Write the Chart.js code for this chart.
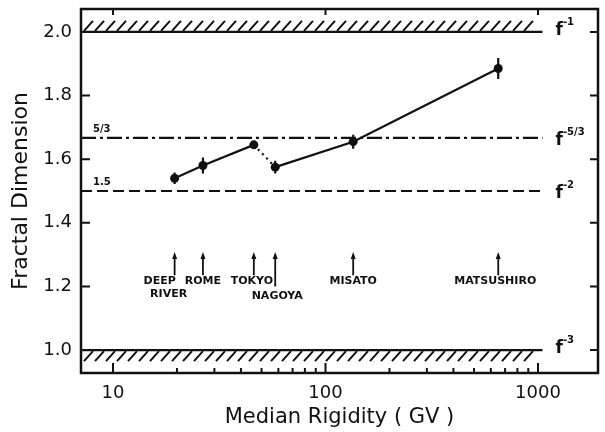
<!DOCTYPE html>
<html>
<head>
<meta charset="utf-8">
<script src="https://cdn.jsdelivr.net/npm/chart.js@4.4.1/dist/chart.umd.min.js"></script>
<style>
  html, body { margin: 0; padding: 0; background: #fff; }
</style>
</head>
<body>
<canvas id="fractalChart" width="605" height="432"></canvas>
<script>
// stations, median rigidity (GV) and fractal dimension
const stations = [['DEEP', 'RIVER'], ['ROME'], ['TOKYO'], ['NAGOYA'], ['MISATO'], ['MATSUSHIRO']];
const rigidity = [19.5, 26.5, 46, 58, 135, 650];
const dimension = [1.54, 1.58, 1.645, 1.575, 1.655, 1.885];
const dimensionErr = [0.018, 0.025, 0.012, 0.02, 0.022, 0.033];

// spectral index levels f^-n and their fractal dimension
const refLevels = [2.0, 5 / 3, 1.5, 1.0];
const refNames = ['-1', '-5/3', '-2', '-3'];
const refLeftNames = ['', '5/3', '1.5', ''];

const xTicks = [10, 100, 1000];
const xMinorTicks = [20, 30, 40, 50, 60, 70, 80, 90, 200, 300, 400, 500, 600, 700, 800, 900];
const yTicks = [1.0, 1.2, 1.4, 1.6, 1.8, 2.0];

const INK = '#111';
const FONT = 'DejaVu Sans';
const xMin = 7.07, xMax = 1916, yMin = 0.928, yMax = 2.072;
const levelEnd = 1050;

// where the station arrows and names sit (data units)
const arrowTop = 1.305;
const arrowBottom = [1.235, 1.235, 1.235, 1.2, 1.235, 1.235];
const nameY = [1.216, 1.216, 1.216, 1.17, 1.216, 1.216];
const nameDx = [[-15, -6], [0], [-2], [2], [0], [-3]];

function levelLine(y, dash) {
    return {
        data: [{ x: xMin, y: y }, { x: levelEnd, y: y }],
        borderColor: INK,
        borderWidth: 2.2,
        borderDash: dash,
        pointRadius: 0,
        tension: 0
    };
}

const decorPlugin = {
    id: 'decor',
    beforeDatasetsDraw(chart) {
        const ctx = chart.ctx;
        const xs = chart.scales.x, ys = chart.scales.y;
        const x0 = xs.getPixelForValue(xMin), x1 = xs.getPixelForValue(levelEnd);
        ctx.save();
        ctx.strokeStyle = INK;
        ctx.lineWidth = 2;
        ctx.beginPath();
        // hatching above f^-1 and below f^-3
        const yTop = ys.getPixelForValue(2.0);
        const yBot = ys.getPixelForValue(1.0);
        for (let x = x0 + 3; x + 9 <= x1; x += 11) {
            ctx.moveTo(x, yTop - 1);
            ctx.lineTo(x + 9, yTop - 11);
            ctx.moveTo(x, yBot + 11);
            ctx.lineTo(x + 9, yBot + 1);
        }
        ctx.stroke();
        ctx.restore();
    },
    afterDatasetsDraw(chart) {
        const ctx = chart.ctx;
        const xs = chart.scales.x, ys = chart.scales.y;
        const area = chart.chartArea;
        ctx.save();
        ctx.strokeStyle = INK;
        ctx.fillStyle = INK;

        // error bars
        ctx.lineWidth = 2.2;
        ctx.beginPath();
        rigidity.forEach((r, i) => {
            const px = xs.getPixelForValue(r);
            ctx.moveTo(px, ys.getPixelForValue(dimension[i] - dimensionErr[i]));
            ctx.lineTo(px, ys.getPixelForValue(dimension[i] + dimensionErr[i]));
        });
        ctx.stroke();

        // station arrows and names
        ctx.lineWidth = 1.8;
        ctx.font = 'bold 11px ' + FONT;
        ctx.textAlign = 'center';
        ctx.textBaseline = 'middle';
        rigidity.forEach((r, i) => {
            const px = xs.getPixelForValue(r);
            const pt = ys.getPixelForValue(arrowTop);
            ctx.beginPath();
            ctx.moveTo(px, ys.getPixelForValue(arrowBottom[i]));
            ctx.lineTo(px, pt + 4);
            ctx.stroke();
            ctx.beginPath();
            ctx.moveTo(px, pt - 1);
            ctx.lineTo(px - 2.5, pt + 6);
            ctx.lineTo(px + 2.5, pt + 6);
            ctx.closePath();
            ctx.fill();
            const py = ys.getPixelForValue(nameY[i]);
            stations[i].forEach((line, k) => {
                ctx.fillText(line, px + nameDx[i][k], py + k * 13);
            });
        });

        // level names
        refLevels.forEach((lv, i) => {
            const py = ys.getPixelForValue(lv);
            const lx = xs.getPixelForValue(levelEnd) + 13;
            ctx.textAlign = 'left';
            ctx.textBaseline = 'alphabetic';
            ctx.font = 'bold 17px ' + FONT;
            const sh = (i === 0 || i === 3) ? -4 : 0;
            ctx.fillText('f', lx, py + 7 + sh);
            const fw = ctx.measureText('f').width;
            ctx.font = 'bold 10px ' + FONT;
            ctx.fillText(refNames[i], lx + fw, py - 3 + sh);
            if (refLeftNames[i]) {
                ctx.font = 'bold 10px ' + FONT;
                ctx.fillText(refLeftNames[i], area.left + 12, py - 6);
            }
        });

        // frame and inward tick marks
        ctx.lineWidth = 2.5;
        ctx.strokeRect(area.left, area.top, area.right - area.left, area.bottom - area.top);
        ctx.lineWidth = 2;
        ctx.beginPath();
        yTicks.forEach(v => {
            const py = ys.getPixelForValue(v);
            ctx.moveTo(area.left, py);
            ctx.lineTo(area.left + 9, py);
            ctx.moveTo(area.right, py);
            ctx.lineTo(area.right - 8, py);
        });
        xTicks.forEach(v => {
            const px = xs.getPixelForValue(v);
            ctx.moveTo(px, area.bottom);
            ctx.lineTo(px, area.bottom - 10);
            ctx.moveTo(px, area.top);
            ctx.lineTo(px, area.top + 6);
        });
        xMinorTicks.forEach(v => {
            const px = xs.getPixelForValue(v);
            ctx.moveTo(px, area.bottom);
            ctx.lineTo(px, area.bottom - 5);
        });
        ctx.stroke();
        ctx.restore();
    }
};

const ctx = document.getElementById('fractalChart').getContext('2d');

new Chart(ctx, {
    type: 'line',
    data: {
        datasets: [
            {
                data: rigidity.map((r, i) => ({ x: r, y: dimension[i] })),
                borderColor: INK,
                borderWidth: 2.2,
                pointRadius: 4.5,
                pointBackgroundColor: INK,
                pointBorderColor: INK,
                pointBorderWidth: 0,
                tension: 0,
                // Tokyo -> Nagoya is dotted
                segment: {
                    borderDash: c => c.p0DataIndex === 2 ? [2, 4] : undefined
                }
            },
            levelLine(refLevels[0], []),
            levelLine(refLevels[1], [15, 4, 3, 4]),
            levelLine(refLevels[2], [11, 5]),
            levelLine(refLevels[3], [])
        ]
    },
    options: {
        responsive: false,
        animation: false,
        layout: { padding: { top: 9, right: 7, left: 0, bottom: 0 } },
        plugins: {
            legend: { display: false },
            tooltip: { enabled: false }
        },
        scales: {
            x: {
                type: 'logarithmic',
                min: xMin,
                max: xMax,
                afterBuildTicks: s => { s.ticks = xTicks.map(v => ({ value: v })); },
                afterFit: s => { s.height = 59; s.paddingLeft = 0; s.paddingRight = 0; },
                grid: { display: false, drawTicks: false },
                border: { display: false },
                ticks: {
                    color: INK,
                    font: { family: FONT, size: 18 },
                    padding: 10,
                    maxRotation: 0,
                    autoSkip: false,
                    callback: v => String(v)
                },
                title: {
                    display: true,
                    text: 'Median Rigidity ( GV )',
                    color: INK,
                    font: { family: FONT, size: 21 },
                    padding: { top: 0, bottom: 2 }
                }
            },
            y: {
                type: 'linear',
                min: yMin,
                max: yMax,
                afterBuildTicks: s => { s.ticks = yTicks.map(v => ({ value: v })); },
                afterFit: s => { s.width = 81; s.paddingTop = 0; s.paddingBottom = 0; },
                grid: { display: false, drawTicks: false },
                border: { display: false },
                ticks: {
                    color: INK,
                    font: { family: FONT, size: 18 },
                    padding: 9,
                    callback: v => v.toFixed(1)
                },
                title: {
                    display: true,
                    text: 'Fractal Dimension',
                    color: INK,
                    font: { family: FONT, size: 22 },
                    padding: { top: 8, bottom: 0 }
                }
            }
        }
    },
    plugins: [decorPlugin]
});
</script>
</body>
</html>
